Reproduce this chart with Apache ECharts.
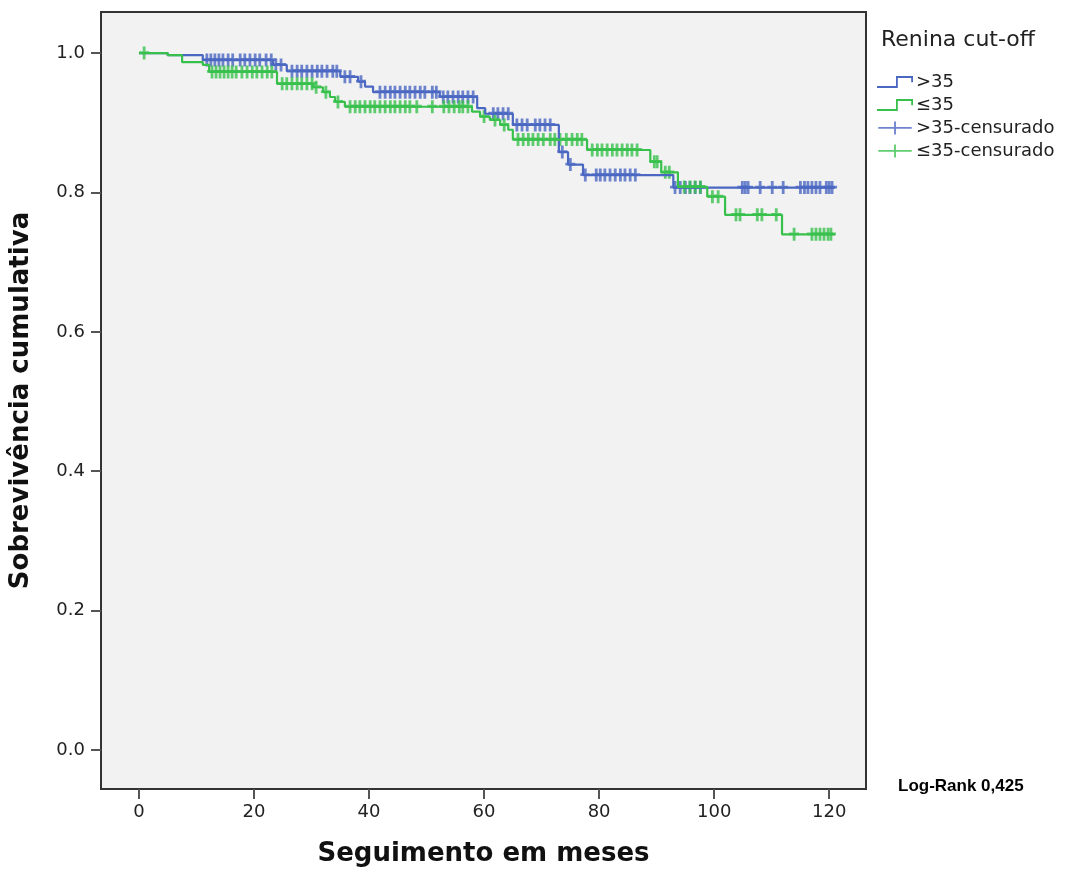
<!DOCTYPE html>
<html lang="pt">
<head>
  <meta charset="UTF-8">
  <title>Sobrevivência cumulativa - Renina cut-off</title>
  <script type="text/javascript" src="https://cdn.jsdelivr.net/npm/echarts@6.0.0/dist/echarts.min.js"></script>
  <style type="text/css">
    * {
      margin: 0;
      padding: 0;
    }

    html, body {
      width: 100%;
      height: 100%;
      background: #fff;
    }

    #chartbox {
      width: 1070px;
      height: 872px;
    }
  </style>
</head>
<body>
<div id="chartbox"></div>
<script type="text/javascript">
  // curvas de Kaplan-Meier: [meses, sobrevivência] em cada evento
  let eventosAcima = [
    [0, 1.0], [5.0, 0.997], [11.1, 0.990], [23.3, 0.983], [25.7, 0.974], [35.0, 0.966],
    [38.1, 0.959], [39.3, 0.952], [40.7, 0.944], [52.3, 0.937], [58.8, 0.921], [60.2, 0.913],
    [65.0, 0.897], [73.0, 0.858], [74.6, 0.840], [77.2, 0.825], [92.9, 0.807], [121.0, 0.807]
  ]
  let eventosAbaixo = [
    [0, 1.0], [5.0, 0.997], [7.5, 0.987], [11.1, 0.983], [12.2, 0.973], [24.0, 0.956],
    [30.3, 0.951], [32.0, 0.944], [33.2, 0.937], [34.1, 0.930], [35.8, 0.923], [57.9, 0.916],
    [59.3, 0.909], [61.0, 0.904], [62.8, 0.897], [64.2, 0.890], [65.0, 0.876], [77.9, 0.861],
    [88.9, 0.844], [90.8, 0.829], [93.7, 0.808], [98.8, 0.794], [101.9, 0.768], [111.8, 0.740],
    [121.0, 0.740]
  ]
  // tempos dos casos censurados (meses)
  let censAcima = [
    11.8, 12.5, 13.2, 13.9, 14.6, 15.5, 16.3, 17.6, 18.4, 19.3, 20.2, 21.0, 22.1, 23.0,
    23.8, 24.7, 26.6, 27.5, 28.3, 29.2, 30.1, 31.0, 31.8, 32.7, 33.7, 34.4, 35.8, 36.7, 38.6,
    41.9, 42.8, 43.7, 44.5, 45.4, 46.3, 47.1, 48.0, 48.9, 49.7, 51.0, 51.7,
    52.9, 53.7, 54.6, 55.5, 56.3, 57.2, 58.1, 61.6, 62.4, 63.3, 64.2,
    65.7, 66.6, 67.5, 68.9, 69.7, 70.6, 71.5, 73.6, 75.0,
    77.6, 79.5, 80.2, 81.0, 81.9, 82.8, 83.7, 84.5, 85.4, 86.3,
    93.2, 94.1, 95.0, 95.8, 96.7, 97.6, 104.9, 105.4, 105.9, 108.0, 110.1, 112.0,
    115.0, 115.7, 116.3, 117.0, 117.7, 118.4, 119.5, 120.0, 120.5
  ]
  let censAbaixo = [
    0.9, 12.7, 13.4, 14.1, 14.8, 15.5, 16.2, 16.9, 17.9, 18.8, 19.7, 20.5, 21.4, 22.3, 23.1,
    24.9, 25.7, 26.6, 27.5, 28.3, 29.2, 30.1, 30.8, 32.5, 34.6,
    36.7, 37.6, 38.4, 39.3, 40.2, 41.0, 41.9, 42.8, 43.7, 44.5, 45.4, 46.3, 47.1, 48.3, 51.0,
    53.0, 53.9, 54.8, 55.7, 56.3, 57.2, 60.0, 61.9, 63.5,
    65.9, 66.8, 67.7, 68.5, 69.4, 70.3, 71.5, 72.3, 73.2, 74.3, 75.3, 76.2, 77.0,
    78.8, 79.7, 80.5, 81.4, 82.3, 83.1, 84.0, 84.9, 85.7, 86.6, 89.6, 90.1, 91.5, 92.2,
    94.8, 95.8, 96.7, 97.6, 99.7, 100.7, 103.8, 104.5, 107.5, 108.3, 110.8,
    113.9, 117.0, 117.7, 118.4, 119.1, 119.8, 120.3
  ]
  let xTicks = [0, 20, 40, 60, 80, 100, 120]
  let yTicks = [0, 0.2, 0.4, 0.6, 0.8, 1.0]
  let nomes = ['>35', '≤35', '>35-censurado', '≤35-censurado']

  let azul = '#4a67c2'
  let verde = '#38c04c'
  let fonte = '"DejaVu Sans", sans-serif'

  // cruz de censura (preenchida)
  let cruz = 'path://M3.6,0 H6.4 V4.6 H10 V7.4 H6.4 V13 H3.6 V7.4 H0 V4.6 H3.6 Z'
  let degrau = 'path://M0,11.8 H19 V1.8 H36 V8 H34.2 V3.6 H20.8 V13.6 H0 Z'
  let cruzLegenda = 'path://M17,0 H19 V6 H36 V7.8 H19 V14 H17 V7.8 H0 V6 H17 Z'

  // valor da curva no tempo t (para colocar as cruzes sobre a linha)
  function survAt(eventos, t) {
    let s = eventos[0][1]
    for (let i = 0; i < eventos.length; i++) {
      if (eventos[i][0] <= t) s = eventos[i][1]
    }
    return s
  }

  function marcas(tempos, eventos) {
    return tempos.map(function (t) {
      return [t, survAt(eventos, t)]
    })
  }

  let myChart = echarts.init(document.getElementById('chartbox'))
  let option = {
    animation: false,
    backgroundColor: '#fff',
    textStyle: {fontFamily: fonte},
    grid: {
      left: 101,
      top: 12,
      width: 765,
      height: 779,
      show: true,
      backgroundColor: '#f2f2f2',
      borderColor: '#333',
      borderWidth: 2
    },
    legend: {
      orient: 'vertical',
      left: 872,
      top: 68,
      itemWidth: 36,
      itemHeight: 13,
      itemGap: 5,
      selectedMode: false,
      textStyle: {
        fontSize: 18,
        lineHeight: 18,
        color: '#222',
        fontFamily: fonte,
        padding: [0, 0, 0, -2]
      },
      data: [
        {name: nomes[0], icon: degrau},
        {name: nomes[1], icon: degrau},
        {name: nomes[2], icon: cruzLegenda},
        {name: nomes[3], icon: cruzLegenda}
      ]
    },
    graphic: [
      {
        type: 'text',
        left: 881,
        top: 29,
        style: {text: 'Renina cut-off', fontSize: 22, fill: '#222', fontFamily: fonte}
      },
      {
        type: 'text',
        left: 898,
        top: 778,
        style: {
          text: 'Log-Rank 0,425', fontSize: 17, fontWeight: 'bold', fill: '#000',
          fontFamily: '"Liberation Sans", Arial, sans-serif'
        }
      }
    ],
    xAxis: {
      type: 'value',
      min: -6.6,
      max: 126.4,
      name: 'Seguimento em meses',
      nameLocation: 'middle',
      nameGap: 52,
      nameTextStyle: {fontSize: 26, fontWeight: 'bold', color: '#111', fontFamily: fonte},
      axisLine: {show: false, onZero: false},
      splitLine: {show: false},
      axisTick: {
        show: true,
        length: 10,
        customValues: xTicks,
        lineStyle: {color: '#555', width: 2}
      },
      axisLabel: {
        customValues: xTicks,
        margin: 14,
        fontSize: 18,
        color: '#222',
        fontFamily: fonte
      }
    },
    yAxis: {
      type: 'value',
      min: -0.056,
      max: 1.059,
      name: 'Sobrevivência cumulativa',
      nameLocation: 'middle',
      nameGap: 67,
      nameTextStyle: {fontSize: 26, fontWeight: 'bold', color: '#111', fontFamily: fonte},
      axisLine: {show: false, onZero: false},
      splitLine: {show: false},
      axisTick: {
        show: true,
        length: 10,
        customValues: yTicks,
        lineStyle: {color: '#555', width: 2}
      },
      axisLabel: {
        customValues: yTicks,
        margin: 16,
        fontSize: 18,
        color: '#222',
        fontFamily: fonte,
        formatter: function (v) {
          return v.toFixed(1)
        }
      }
    },
    series: [
      {
        name: nomes[0],
        type: 'line',
        step: 'end',
        showSymbol: false,
        symbol: 'none',
        color: azul,
        lineStyle: {color: azul, width: 2.2},
        data: eventosAcima
      },
      {
        name: nomes[2],
        type: 'scatter',
        symbol: cruz,
        symbolSize: [10, 13],
        color: azul,
        itemStyle: {color: azul},
        data: marcas(censAcima, eventosAcima)
      },
      {
        name: nomes[1],
        type: 'line',
        step: 'end',
        showSymbol: false,
        symbol: 'none',
        color: verde,
        lineStyle: {color: verde, width: 2.2},
        data: eventosAbaixo
      },
      {
        name: nomes[3],
        type: 'scatter',
        symbol: cruz,
        symbolSize: [10, 13],
        color: verde,
        itemStyle: {color: verde},
        data: marcas(censAbaixo, eventosAbaixo)
      }
    ]
  }
  myChart.setOption(option)
</script>
</body>
</html>
